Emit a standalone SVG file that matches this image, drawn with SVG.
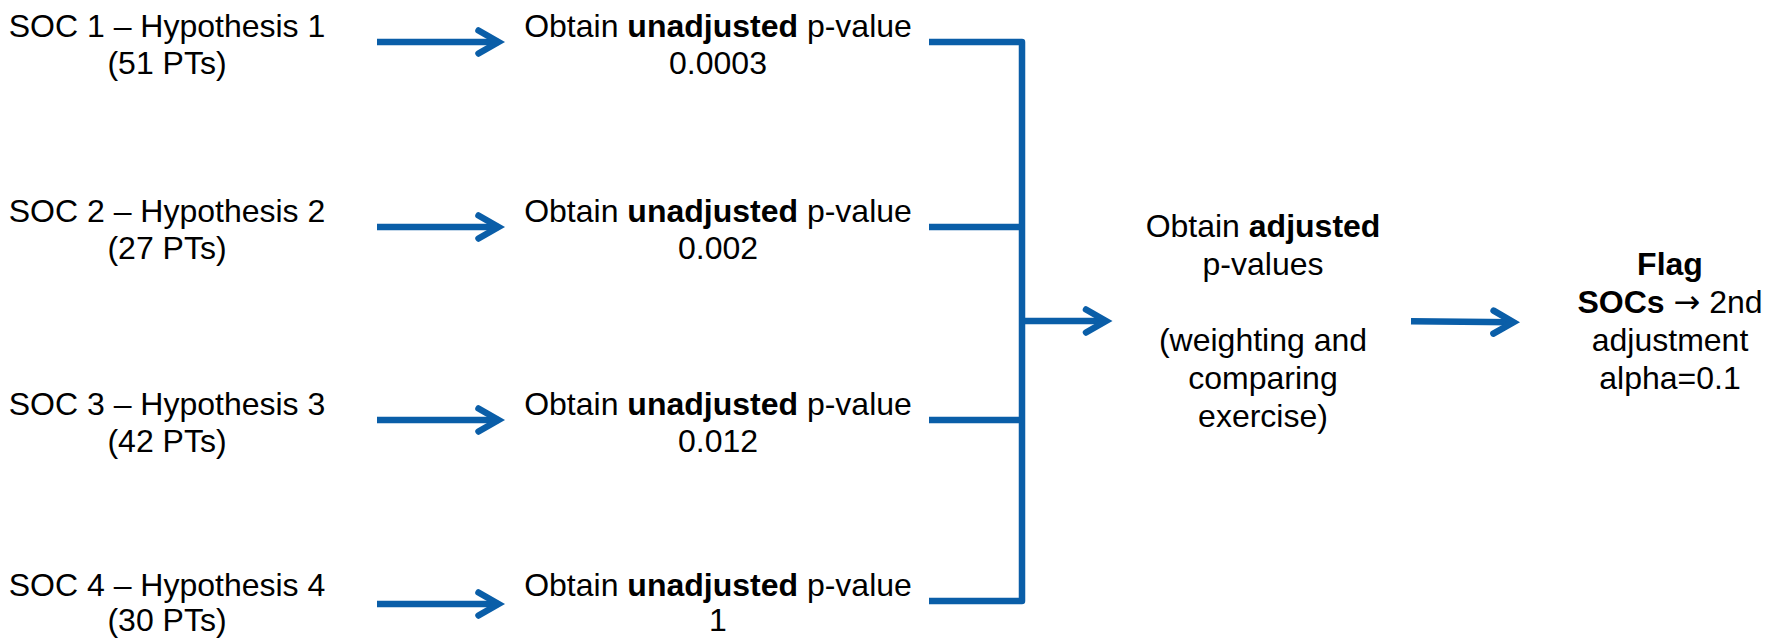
<svg xmlns="http://www.w3.org/2000/svg" width="1781" height="638" viewBox="0 0 1781 638">
  <style>
    text { font-family: "Liberation Sans", Arial, sans-serif; font-size: 32px; fill: #000; text-anchor: middle; }
    .b { font-weight: bold; }
    .sym { font-family: "DejaVu Sans", sans-serif; }
    .wire { fill: none; stroke: #0A5EA8; stroke-width: 6.5; stroke-linejoin: round; }
    .arrow { fill: none; stroke: #0A5EA8; stroke-width: 6.5; marker-end: url(#chevron); }
  </style>
  <defs>
    <marker id="chevron" markerUnits="userSpaceOnUse" markerWidth="40" markerHeight="40" viewBox="-30 -20 40 40" refX="0" refY="0" orient="auto">
      <path d="M-20,-11.5 L0,0 L-20,11.5" fill="none" stroke="#0A5EA8" stroke-width="6.5" stroke-linecap="round" stroke-linejoin="miter" stroke-miterlimit="10"/>
    </marker>
  </defs>
  <rect width="1781" height="638" fill="#fff"/>

  <!-- hypotheses -->
  <g id="soc1"><text x="167" y="37">SOC 1 – Hypothesis 1</text><text x="167" y="74">(51 PTs)</text></g>
  <g id="soc2"><text x="167" y="222">SOC 2 – Hypothesis 2</text><text x="167" y="259">(27 PTs)</text></g>
  <g id="soc3"><text x="167" y="415">SOC 3 – Hypothesis 3</text><text x="167" y="452">(42 PTs)</text></g>
  <g id="soc4"><text x="167" y="596">SOC 4 – Hypothesis 4</text><text x="167" y="631">(30 PTs)</text></g>

  <!-- unadjusted p-values -->
  <g id="p1"><text x="718" y="37">Obtain <tspan class="b">unadjusted</tspan> p-value</text><text x="718" y="74">0.0003</text></g>
  <g id="p2"><text x="718" y="222">Obtain <tspan class="b">unadjusted</tspan> p-value</text><text x="718" y="259">0.002</text></g>
  <g id="p3"><text x="718" y="415">Obtain <tspan class="b">unadjusted</tspan> p-value</text><text x="718" y="452">0.012</text></g>
  <g id="p4"><text x="718" y="596">Obtain <tspan class="b">unadjusted</tspan> p-value</text><text x="718" y="631">1</text></g>

  <!-- adjustment step -->
  <g id="adjust">
    <text x="1263" y="237">Obtain <tspan class="b">adjusted</tspan></text>
    <text x="1263" y="275">p-values</text>
    <text x="1263" y="351">(weighting and</text>
    <text x="1263" y="389">comparing</text>
    <text x="1263" y="427">exercise)</text>
  </g>

  <!-- flag step -->
  <g id="flag">
    <text x="1670" y="275" class="b">Flag</text>
    <text x="1670" y="313"><tspan class="b">SOCs</tspan> <tspan class="sym">→</tspan> 2nd</text>
    <text x="1670" y="351">adjustment</text>
    <text x="1670" y="389">alpha=0.1</text>
  </g>

  <!-- connectors -->
  <g id="connectors">
    <line class="arrow" x1="377" y1="42" x2="498.5" y2="42"/>
    <line class="arrow" x1="377" y1="227" x2="498.5" y2="227"/>
    <line class="arrow" x1="377" y1="420" x2="498.5" y2="420"/>
    <line class="arrow" x1="377" y1="604" x2="498.5" y2="604"/>
    <path class="wire" d="M929,42 H1022 V601 H929 M929,227 H1022 M929,420 H1022"/>
    <line class="arrow" x1="1022" y1="321" x2="1106" y2="321"/>
    <line class="arrow" x1="1411" y1="321.3" x2="1513.5" y2="322.3"/>
  </g>
</svg>
